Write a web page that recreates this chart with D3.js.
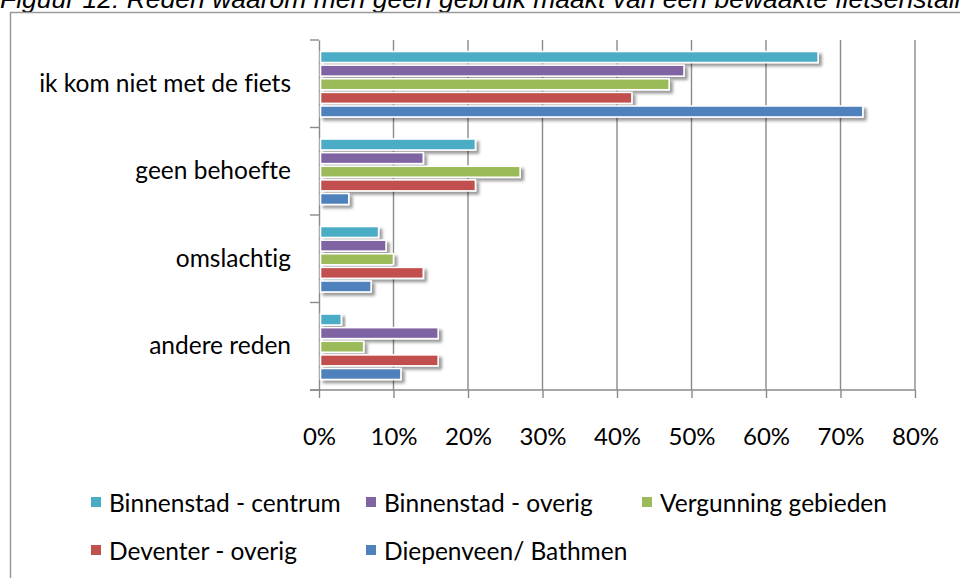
<!DOCTYPE html>
<html>
<head>
<meta charset="utf-8">
<script src="https://cdn.jsdelivr.net/npm/d3@7"></script>
<style>
  html, body { margin: 0; padding: 0; background: #fff; }
  svg { display: block; }
  text { font-variant-ligatures: none; }
</style>
</head>
<body>
<svg id="chart" width="960" height="578"></svg>
<script>
// ---- data ----
const title = "Figuur 12: Reden waarom men geen gebruik maakt van een bewaakte fietsenstalling";
const categories = ["ik kom niet met de fiets", "geen behoefte", "omslachtig", "andere reden"];
const seriesNames = ["Binnenstad - centrum", "Binnenstad - overig", "Vergunning gebieden", "Deventer - overig", "Diepenveen/ Bathmen"];
const seriesColors = ["#4BACC6", "#8064A2", "#9BBB59", "#C0504D", "#4F81BD"];
const binnenstadCentrum = [0.67, 0.21, 0.08, 0.03];
const binnenstadOverig  = [0.49, 0.14, 0.09, 0.16];
const vergunningGebieden = [0.47, 0.27, 0.10, 0.06];
const deventerOverig    = [0.42, 0.21, 0.14, 0.16];
const diepenveenBathmen = [0.73, 0.04, 0.07, 0.11];
const seriesValues = [binnenstadCentrum, binnenstadOverig, vergunningGebieden, deventerOverig, diepenveenBathmen];
const xTicks = [0, 0.1, 0.2, 0.3, 0.4, 0.5, 0.6, 0.7, 0.8];

const svg = d3.select("#chart");
const FONT = "Lato, 'Open Sans', sans-serif";

// drop shadow filter
const defs = svg.append("defs");
const f = defs.append("filter").attr("id", "shadow").attr("x", "-20%").attr("y", "-50%").attr("width", "140%").attr("height", "250%");
f.append("feDropShadow").attr("dx", 3).attr("dy", 3).attr("stdDeviation", 1.8)
  .attr("flood-color", "#000").attr("flood-opacity", 0.4);

// title (its top is clipped in the original)
svg.append("text")
  .attr("x", 0).attr("y", 8)
  .attr("font-family", "'Liberation Sans', Arial, sans-serif")
  .attr("font-style", "italic")
  .attr("font-size", 26.5)
  .attr("fill", "#000")
  .text(title);

// outer frame
svg.append("rect")
  .attr("x", 10.5).attr("y", 12.5).attr("width", 970).attr("height", 600)
  .attr("fill", "#fff").attr("stroke", "#9a9a9a").attr("stroke-width", 1.5);

// scales
const x = d3.scaleLinear().domain([0, 0.8]).range([319, 915]);
const y = d3.scaleBand().domain(categories).range([40, 390]).paddingInner(0).paddingOuter(0);
const ys = d3.scaleBand().domain(d3.range(seriesNames.length)).range([11.5, 77]).paddingInner(0.19).paddingOuter(0);

const gridColor = "#8a8a8a";

// gridlines
svg.append("g").selectAll("line").data(xTicks.slice(1)).join("line")
  .attr("x1", d => x(d)).attr("x2", d => x(d))
  .attr("y1", 40).attr("y2", 390)
  .attr("stroke", gridColor).attr("stroke-width", 1.4);

// x axis
const xAxis = svg.append("g").attr("transform", "translate(0,390)")
  .call(d3.axisBottom(x).tickValues(xTicks).tickFormat(d3.format(".0%")).tickSizeInner(8).tickSizeOuter(0).tickPadding(30));
xAxis.select(".domain").remove();
xAxis.selectAll(".tick line").attr("stroke", gridColor).attr("stroke-width", 1.4);
xAxis.selectAll(".tick text").attr("font-family", FONT).attr("font-size", 24).attr("fill", "#000");
svg.append("line").attr("x1", 310).attr("x2", x(0.8)).attr("y1", 390).attr("y2", 390)
  .attr("stroke", gridColor).attr("stroke-width", 1.4);

// y axis
const yAxis = svg.append("g").attr("transform", `translate(${x(0)},0)`)
  .call(d3.axisLeft(y).tickSize(0).tickPadding(28));
yAxis.select(".domain").attr("stroke", gridColor).attr("stroke-width", 1.4);
yAxis.selectAll(".tick text").attr("font-family", FONT).attr("font-size", 24.5).attr("fill", "#000");
const bounds = [...categories.map(c => y(c)), y.range()[1]];
svg.append("g").selectAll("line").data(bounds).join("line")
  .attr("x1", x(0) - 9).attr("x2", x(0))
  .attr("y1", d => d).attr("y2", d => d)
  .attr("stroke", gridColor).attr("stroke-width", 1.4);

// bars
const bars = [];
seriesValues.forEach((vals, si) => vals.forEach((v, ci) => bars.push({ si, ci, v })));
svg.append("g").selectAll("rect").data(bars).join("rect")
  .attr("x", x(0) + 1.5)
  .attr("y", d => y(categories[d.ci]) + ys(d.si))
  .attr("width", d => x(d.v) - x(0) - 1.5)
  .attr("height", ys.bandwidth())
  .attr("fill", d => seriesColors[d.si])
  .attr("stroke", "#fff").attr("stroke-width", 1.6)
  .attr("filter", "url(#shadow)");

// legend
const legendPos = [[91, 503], [366, 503], [642, 503], [91, 551], [366, 551]];
const lg = svg.append("g").selectAll("g").data(seriesNames).join("g")
  .attr("transform", (d, i) => `translate(${legendPos[i][0]},${legendPos[i][1]})`);
lg.append("rect").attr("x", 0).attr("y", -6).attr("width", 10).attr("height", 10)
  .attr("fill", (d, i) => seriesColors[i]);
lg.append("text").attr("x", 18).attr("y", 0).attr("dy", "0.35em")
  .attr("font-family", FONT).attr("font-size", 24.5).attr("fill", "#000")
  .text(d => d);
</script>
</body>
</html>
